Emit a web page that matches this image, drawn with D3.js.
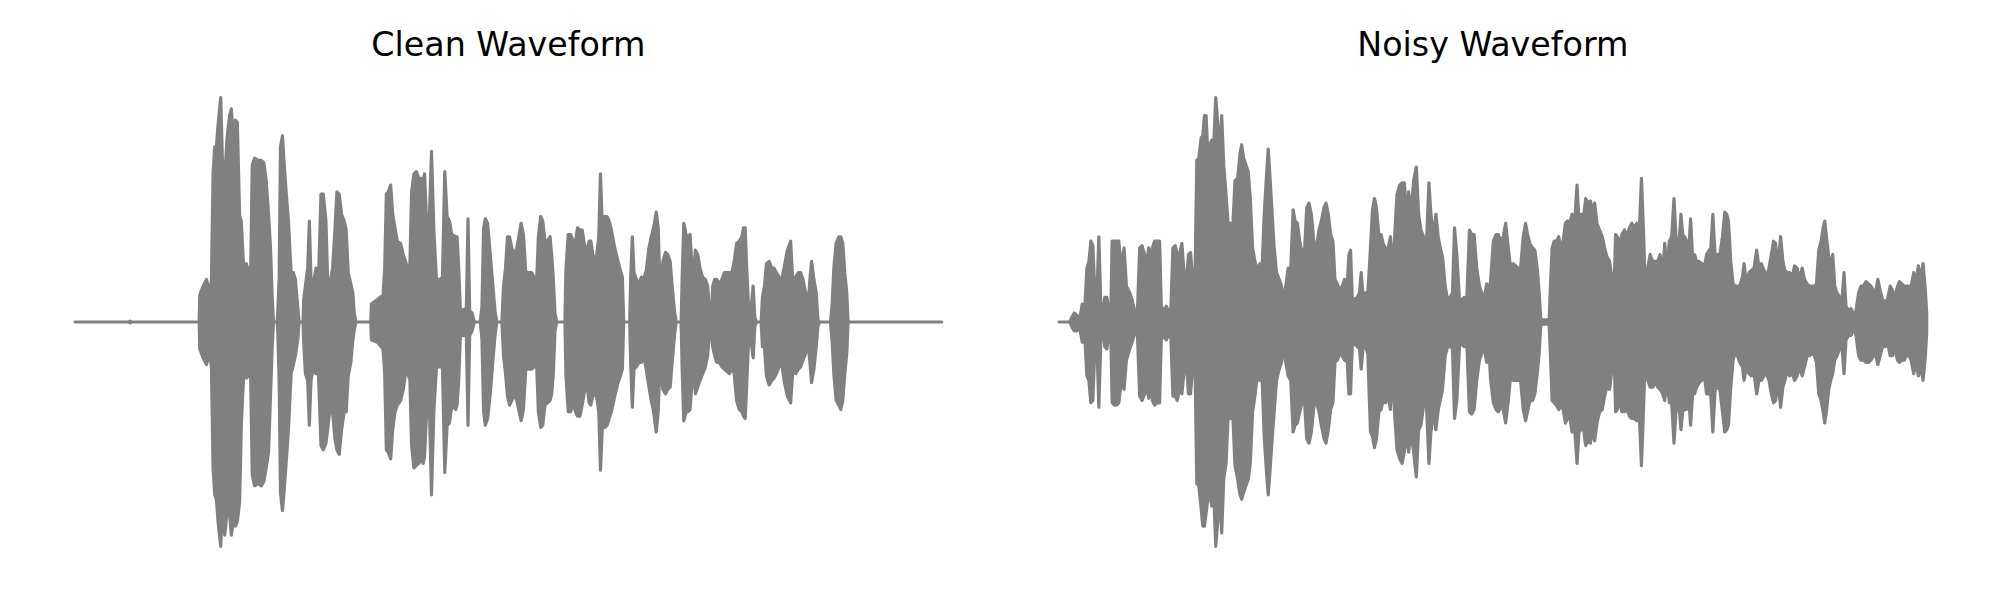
<!DOCTYPE html>
<html><head><meta charset="utf-8">
<script src="https://cdn.jsdelivr.net/npm/d3@7"></script>
<style>body{margin:0;background:#fff} svg{display:block}</style>
</head><body><svg id="c" width="2000" height="600"></svg>
<script>
// Panel titles
const titles = ["Clean Waveform", "Noisy Waveform"];

// Waveform envelopes: [frame, upper peak, lower peak], amplitude normalised to [-1, 1]
const cleanEnvelope = [
[0,0,0],[162,0,0],[166,0.004,-0.004],[170,0,0],[374,0,0],
[376,0.12,-0.12],[386,0.16,-0.16],[396,0.19,-0.19],[406,0.13,-0.14],[411,0.19,-0.20],[416,0.66,-0.65],[421,0.78,-0.77],[426,0.78,-0.79],[431,0.88,-0.89],[439,1.00,-1.00],[445,0.67,-0.77],[451,0.64,-0.95],[458,0.82,-0.85],[466,0.92,-0.86],[471,0.95,-0.95],[477,0.79,-0.88],[483,0.90,-0.91],[489,0.89,-0.89],[496,0.47,-0.80],[501,0.45,-0.46],[508,0.24,-0.24],[516,0.26,-0.25],[523,0.23,-0.24],[529,0.20,-0.23],[534,0.70,-0.68],[541,0.73,-0.73],[551,0.72,-0.72],[561,0.72,-0.73],[569,0.71,-0.71],[576,0.63,-0.65],[583,0.48,-0.58],[589,0.33,-0.33],[594,0.11,-0.11],[598,0,0],[609,0,0],
[611,0.05,-0.05],[615,0.19,-0.26],[619,0.78,-0.76],[625,0.83,-0.84],[629,0.73,-0.77],[636,0.58,-0.63],[643,0.45,-0.48],[651,0.22,-0.23],[658,0.22,-0.19],[664,0.19,-0.15],[671,0.07,-0.08],[675,0,0],[687,0,0],
[689,0.10,-0.09],[694,0.16,-0.23],[701,0.24,-0.26],[706,0.45,-0.46],[711,0.19,-0.26],[717,0.16,-0.21],[726,0.24,-0.23],[733,0.16,-0.21],[741,0.57,-0.55],[748,0.57,-0.57],[756,0.45,-0.54],[761,0.19,-0.48],[768,0.17,-0.39],[776,0.24,-0.40],[783,0.41,-0.52],[789,0.58,-0.57],[796,0.57,-0.59],[803,0.48,-0.48],[811,0.45,-0.40],[817,0.41,-0.40],[823,0.22,-0.24],[831,0.17,-0.18],[837,0.13,-0.08],[841,0.04,-0.04],[846,0,0],[891,0,0],
[893,0.08,-0.08],[911,0.10,-0.09],[928,0.12,-0.12],[933,0.24,-0.23],[938,0.57,-0.57],[944,0.58,-0.58],[951,0.61,-0.61],[957,0.48,-0.48],[964,0.42,-0.40],[971,0.36,-0.37],[981,0.35,-0.35],[989,0.30,-0.30],[996,0.27,-0.23],[1003,0.23,-0.23],[1009,0.26,-0.26],[1014,0.58,-0.55],[1021,0.66,-0.65],[1028,0.67,-0.64],[1036,0.64,-0.63],[1044,0.64,-0.61],[1049,0.63,-0.63],[1053,0.66,-0.60],[1061,0.39,-0.35],[1068,0.48,-0.40],[1074,0.76,-0.77],[1081,0.41,-0.40],[1089,0.19,-0.20],[1101,0.19,-0.20],[1107,0.20,-0.20],[1114,0.67,-0.67],[1121,0.47,-0.46],[1128,0.45,-0.45],[1135,0.39,-0.37],[1147,0.38,-0.39],[1151,0.38,-0.37],[1156,0.24,-0.26],[1161,0.05,-0.06],[1179,0.06,-0.06],[1184,0.46,-0.46],[1189,0.05,-0.06],[1196,0.04,-0.04],[1203,0,0],[1221,0,0],
[1226,0.07,-0.08],[1231,0.42,-0.40],[1236,0.46,-0.46],[1243,0.44,-0.43],[1251,0.30,-0.32],[1259,0.16,-0.17],[1266,0.04,-0.05],[1271,0,0],[1286,0,0],
[1291,0.16,-0.15],[1297,0.24,-0.23],[1303,0.38,-0.33],[1309,0.38,-0.37],[1316,0.33,-0.35],[1323,0.30,-0.32],[1331,0.33,-0.35],[1338,0.39,-0.40],[1344,0.44,-0.44],[1351,0.39,-0.39],[1358,0.22,-0.21],[1376,0.22,-0.21],[1383,0.20,-0.20],[1391,0.19,-0.20],[1396,0.38,-0.40],[1403,0.47,-0.47],[1409,0.45,-0.46],[1416,0.36,-0.37],[1423,0.36,-0.36],[1431,0.38,-0.35],[1436,0.30,-0.32],[1441,0.19,-0.23],[1446,0.04,-0.04],[1451,0,0],[1476,0,0],
[1479,0.24,-0.24],[1486,0.39,-0.40],[1493,0.39,-0.40],[1501,0.36,-0.36],[1508,0.36,-0.40],[1514,0.42,-0.42],[1521,0.41,-0.42],[1528,0.41,-0.37],[1536,0.33,-0.30],[1543,0.33,-0.29],[1549,0.36,-0.36],[1554,0.36,-0.37],[1561,0.29,-0.32],[1571,0.29,-0.33],[1578,0.38,-0.40],[1583,0.66,-0.66],[1589,0.41,-0.46],[1596,0.47,-0.47],[1603,0.47,-0.46],[1609,0.45,-0.43],[1616,0.41,-0.40],[1626,0.33,-0.33],[1636,0.27,-0.27],[1643,0.23,-0.24],[1649,0.20,-0.21],[1653,0,0],[1671,0,0],
[1674,0.19,-0.18],[1679,0.38,-0.38],[1684,0.22,-0.21],[1691,0.19,-0.20],[1699,0.17,-0.18],[1706,0.20,-0.18],[1713,0.19,-0.15],[1721,0.23,-0.21],[1729,0.33,-0.29],[1736,0.38,-0.35],[1743,0.42,-0.40],[1751,0.49,-0.49],[1757,0.42,-0.40],[1763,0.11,-0.15],[1771,0.27,-0.30],[1779,0.31,-0.32],[1786,0.30,-0.30],[1793,0.27,-0.29],[1799,0.16,-0.18],[1806,0.05,-0.06],[1811,0,0],[1826,0,0],
[1829,0.19,-0.20],[1834,0.44,-0.44],[1841,0.39,-0.40],[1847,0.38,-0.40],[1853,0.39,-0.39],[1859,0.24,-0.26],[1864,0.23,-0.23],[1869,0.32,-0.32],[1876,0.30,-0.29],[1883,0.24,-0.26],[1891,0.20,-0.23],[1899,0.19,-0.20],[1906,0.16,-0.15],[1911,0.05,-0.06],[1916,0,0],
[1921,0.16,-0.11],[1927,0.19,-0.15],[1933,0.19,-0.18],[1941,0.17,-0.18],[1949,0.19,-0.20],[1956,0.22,-0.21],[1971,0.22,-0.23],[1979,0.22,-0.21],[1986,0.27,-0.23],[1993,0.35,-0.35],[2001,0.36,-0.39],[2009,0.38,-0.40],[2014,0.42,-0.42],[2019,0.42,-0.43],[2023,0.26,-0.30],[2029,0.07,-0.09],[2036,0.05,-0.08],[2043,0.16,-0.16],[2048,0.02,-0.02],[2053,0,0],[2067,0,0],
[2071,0.11,-0.11],[2077,0.16,-0.11],[2083,0.26,-0.24],[2091,0.27,-0.28],[2099,0.24,-0.26],[2106,0.24,-0.25],[2113,0.22,-0.23],[2121,0.20,-0.20],[2129,0.19,-0.18],[2136,0.24,-0.26],[2146,0.32,-0.33],[2156,0.36,-0.36],[2163,0.16,-0.20],[2171,0.20,-0.23],[2179,0.22,-0.21],[2186,0.22,-0.20],[2193,0.19,-0.17],[2201,0.13,-0.14],[2208,0.07,-0.09],[2214,0.19,-0.18],[2219,0.27,-0.27],[2226,0.19,-0.21],[2233,0.13,-0.11],[2238,0.01,-0.02],[2243,0,0],[2276,0,0],
[2281,0.08,-0.09],[2286,0.24,-0.23],[2293,0.35,-0.35],[2301,0.38,-0.37],[2307,0.38,-0.39],[2313,0.35,-0.35],[2319,0.22,-0.23],[2325,0.13,-0.14],[2329,0,0],[2611,0,0]
];

const noisyEnvelope = [
[0,0,0],[33,0,0],[38,0.02,-0.02],[46,0.04,-0.04],[53,0.03,-0.04],[63,0.02,-0.03],[70,0.08,-0.09],[78,0.07,-0.08],[84,0.24,-0.24],[90,0.27,-0.26],[96,0.36,-0.36],[102,0.34,-0.35],[108,0.13,-0.11],[114,0.11,-0.09],[120,0.38,-0.38],[126,0.07,-0.08],[133,0.05,-0.05],[138,0.11,-0.11],[144,0.11,-0.12],[150,0.05,-0.06],[156,0.04,-0.05],[160,0.36,-0.36],[166,0.36,-0.37],[173,0.36,-0.37],[180,0.36,-0.36],[188,0.24,-0.26],[196,0.33,-0.30],[203,0.16,-0.17],[213,0.13,-0.12],[220,0.10,-0.09],[228,0.05,-0.05],[236,0.04,-0.05],[243,0.33,-0.33],[250,0.34,-0.35],[258,0.30,-0.32],[265,0.27,-0.29],[270,0.33,-0.34],[275,0.24,-0.26],[281,0.33,-0.35],[288,0.36,-0.37],[296,0.36,-0.36],[303,0.36,-0.36],[308,0.07,-0.08],[316,0.05,-0.06],[323,0.07,-0.08],[330,0.05,-0.06],[336,0.02,-0.03],[343,0.33,-0.33],[350,0.34,-0.33],[356,0.30,-0.35],[363,0.30,-0.30],[370,0.35,-0.32],[376,0.23,-0.23],[383,0.17,-0.17],[390,0.30,-0.32],[396,0.31,-0.32],[403,0.19,-0.20],[410,0.23,-0.23],[415,0.72,-0.72],[421,0.73,-0.73],[428,0.82,-0.83],[433,0.83,-0.91],[438,0.92,-0.91],[443,0.92,-0.85],[448,0.75,-0.79],[454,0.79,-0.77],[460,0.81,-0.82],[466,0.79,-0.77],[472,1.00,-1.00],[478,0.89,-0.89],[484,0.72,-0.76],[490,0.92,-0.94],[496,0.70,-0.70],[503,0.57,-0.63],[510,0.42,-0.40],[516,0.44,-0.43],[523,0.41,-0.40],[530,0.63,-0.64],[538,0.64,-0.70],[545,0.75,-0.77],[550,0.79,-0.79],[556,0.73,-0.76],[563,0.70,-0.73],[570,0.67,-0.70],[576,0.55,-0.63],[583,0.33,-0.40],[590,0.27,-0.33],[598,0.23,-0.23],[605,0.26,-0.26],[611,0.22,-0.23],[618,0.48,-0.51],[624,0.63,-0.65],[630,0.77,-0.77],[636,0.63,-0.65],[642,0.48,-0.52],[648,0.33,-0.40],[655,0.22,-0.26],[663,0.19,-0.21],[670,0.16,-0.18],[678,0.10,-0.11],[683,0.16,-0.18],[690,0.24,-0.24],[698,0.24,-0.26],[705,0.50,-0.49],[711,0.45,-0.46],[718,0.44,-0.45],[725,0.36,-0.40],[733,0.30,-0.35],[740,0.33,-0.37],[746,0.51,-0.52],[753,0.53,-0.54],[760,0.48,-0.49],[768,0.35,-0.37],[775,0.33,-0.36],[783,0.41,-0.40],[790,0.45,-0.46],[798,0.51,-0.52],[804,0.53,-0.54],[811,0.48,-0.48],[818,0.39,-0.39],[825,0.36,-0.36],[831,0.19,-0.18],[838,0.17,-0.17],[846,0.14,-0.14],[853,0.16,-0.15],[860,0.19,-0.17],[868,0.17,-0.18],[873,0.30,-0.32],[878,0.32,-0.32],
[883,0.11,-0.11],[890,0.10,-0.09],[898,0.11,-0.11],[905,0.13,-0.12],[910,0.22,-0.21],[916,0.11,-0.11],[923,0.13,-0.11],[930,0.13,-0.14],[938,0.33,-0.49],[944,0.50,-0.51],[950,0.55,-0.56],[956,0.51,-0.52],[963,0.39,-0.40],[970,0.39,-0.39],[976,0.35,-0.35],[983,0.33,-0.36],[990,0.32,-0.32],[998,0.38,-0.39],[1005,0.22,-0.21],[1011,0.39,-0.42],[1018,0.57,-0.57],[1026,0.61,-0.61],[1033,0.62,-0.63],[1040,0.62,-0.58],[1046,0.48,-0.49],[1053,0.58,-0.58],[1060,0.48,-0.49],[1068,0.63,-0.58],[1076,0.69,-0.69],[1083,0.48,-0.48],[1090,0.41,-0.46],[1098,0.38,-0.37],[1106,0.33,-0.35],[1114,0.62,-0.63],[1120,0.48,-0.49],[1128,0.38,-0.39],[1135,0.48,-0.48],[1142,0.38,-0.39],[1148,0.33,-0.35],[1155,0.29,-0.30],[1163,0.16,-0.15],[1170,0.10,-0.11],[1178,0.11,-0.11],[1185,0.13,-0.12],[1191,0.42,-0.43],[1198,0.30,-0.35],[1206,0.10,-0.11],[1213,0.10,-0.09],[1220,0.11,-0.11],[1228,0.10,-0.09],[1236,0.41,-0.40],[1243,0.39,-0.41],[1250,0.39,-0.39],[1258,0.24,-0.26],[1266,0.16,-0.17],[1273,0.13,-0.14],[1280,0.10,-0.11],[1288,0.17,-0.18],[1295,0.13,-0.14],[1300,0.19,-0.26],[1308,0.36,-0.36],[1316,0.39,-0.39],[1323,0.39,-0.40],[1330,0.36,-0.38],[1338,0.38,-0.39],[1345,0.44,-0.45],[1353,0.33,-0.35],[1360,0.24,-0.24],[1368,0.26,-0.26],[1383,0.24,-0.26],[1390,0.24,-0.26],[1398,0.38,-0.39],[1405,0.44,-0.44],[1411,0.39,-0.40],[1418,0.35,-0.35],[1426,0.33,-0.35],[1433,0.32,-0.32],[1440,0.24,-0.23],[1446,0.13,-0.14],[1451,0.01,-0.01],[1476,0.01,-0.01],[1480,0.16,-0.15],[1485,0.33,-0.35],[1491,0.36,-0.36],[1498,0.36,-0.37],[1505,0.38,-0.39],[1511,0.33,-0.37],[1518,0.36,-0.39],[1525,0.44,-0.45],[1531,0.45,-0.43],[1538,0.44,-0.42],[1545,0.48,-0.49],[1553,0.45,-0.48],[1560,0.61,-0.63],[1566,0.45,-0.49],[1573,0.48,-0.48],[1580,0.47,-0.48],[1586,0.55,-0.55],[1593,0.53,-0.53],[1600,0.54,-0.54],[1606,0.50,-0.48],[1613,0.53,-0.53],[1620,0.44,-0.45],[1628,0.41,-0.40],[1636,0.38,-0.39],[1643,0.33,-0.33],[1650,0.29,-0.29],[1658,0.27,-0.30],[1666,0.19,-0.20],[1671,0.10,-0.09],[1676,0.39,-0.40],[1681,0.38,-0.39],[1688,0.35,-0.35],[1695,0.39,-0.40],[1703,0.41,-0.40],[1710,0.38,-0.39],[1718,0.42,-0.42],[1725,0.44,-0.43],[1732,0.42,-0.43],[1740,0.44,-0.44],
[1748,0.42,-0.43],[1754,0.64,-0.64],[1760,0.41,-0.40],[1766,0.13,-0.12],[1773,0.24,-0.26],[1780,0.30,-0.29],[1788,0.27,-0.29],[1796,0.27,-0.27],[1803,0.27,-0.29],[1810,0.30,-0.30],[1818,0.22,-0.32],[1824,0.35,-0.35],[1831,0.24,-0.26],[1838,0.36,-0.36],[1845,0.38,-0.36],[1852,0.55,-0.54],[1858,0.38,-0.40],[1866,0.33,-0.35],[1873,0.48,-0.48],[1878,0.39,-0.40],[1884,0.38,-0.39],[1890,0.36,-0.39],[1896,0.30,-0.33],[1902,0.46,-0.46],[1908,0.29,-0.32],[1914,0.30,-0.32],[1920,0.27,-0.29],[1928,0.27,-0.27],[1936,0.26,-0.26],[1943,0.24,-0.23],[1950,0.30,-0.32],[1958,0.32,-0.32],[1963,0.33,-0.33],[1969,0.48,-0.49],[1976,0.29,-0.30],[1983,0.30,-0.29],[1990,0.30,-0.30],[1998,0.38,-0.40],[2005,0.49,-0.49],[2011,0.48,-0.48],[2016,0.45,-0.46],[2023,0.27,-0.29],[2030,0.17,-0.17],[2036,0.16,-0.14],[2043,0.16,-0.15],[2050,0.16,-0.18],[2058,0.20,-0.20],[2063,0.26,-0.26],[2070,0.17,-0.20],[2078,0.22,-0.23],[2085,0.23,-0.24],[2093,0.24,-0.23],[2101,0.32,-0.32],[2108,0.24,-0.26],[2115,0.26,-0.26],[2123,0.23,-0.24],[2130,0.20,-0.23],[2138,0.24,-0.26],[2145,0.30,-0.32],[2152,0.36,-0.36],[2158,0.35,-0.35],[2165,0.24,-0.26],[2173,0.38,-0.38],[2180,0.27,-0.29],[2186,0.23,-0.26],[2193,0.22,-0.21],[2200,0.22,-0.24],[2208,0.20,-0.23],[2215,0.25,-0.26],[2223,0.24,-0.24],[2230,0.19,-0.20],[2238,0.24,-0.24],[2245,0.19,-0.20],[2253,0.17,-0.15],[2260,0.16,-0.15],[2268,0.16,-0.14],[2275,0.16,-0.15],[2281,0.17,-0.18],[2288,0.32,-0.32],[2295,0.36,-0.35],[2301,0.42,-0.40],[2306,0.45,-0.45],[2311,0.38,-0.40],[2318,0.29,-0.30],[2324,0.26,-0.26],[2330,0.30,-0.23],[2336,0.16,-0.17],[2343,0.13,-0.15],[2351,0.11,-0.12],[2358,0.10,-0.11],[2364,0.22,-0.23],[2370,0.07,-0.08],[2378,0.05,-0.06],[2385,0.06,-0.06],[2391,0.04,-0.04],[2396,0.01,-0.02],[2402,0.07,-0.08],[2408,0.13,-0.15],[2415,0.16,-0.17],[2423,0.16,-0.17],[2430,0.18,-0.18],[2438,0.17,-0.18],[2445,0.16,-0.17],[2453,0.14,-0.15],[2460,0.14,-0.15],[2466,0.19,-0.19],[2473,0.14,-0.15],[2480,0.10,-0.11],[2488,0.09,-0.11],[2495,0.10,-0.09],[2503,0.16,-0.15],[2510,0.14,-0.15],[2518,0.11,-0.12],[2525,0.16,-0.17],[2531,0.18,-0.18],[2538,0.17,-0.17],[2545,0.16,-0.17],[2552,0.16,-0.15],[2560,0.16,-0.15],[2566,0.16,-0.17],[2574,0.22,-0.23],[2580,0.17,-0.17],[2588,0.25,-0.24],[2595,0.19,-0.20],[2602,0.26,-0.26],[2608,0.16,-0.17],[2613,0.04,-0.05]
];

const svg = d3.select("#c");
const panels = [
  { title: titles[0], data: cleanEnvelope, left: 75, right: 941.7 },
  { title: titles[1], data: noisyEnvelope, left: 1059, right: 1926.7 }
];
const y = d3.scaleLinear().domain([-1, 1]).range([546.4, 97.6]);

panels.forEach(p => {
  const x = d3.scaleLinear().domain(d3.extent(p.data, d => d[0])).range([p.left, p.right]);
  const area = d3.area().x(d => x(d[0])).y0(d => y(d[2])).y1(d => y(d[1]));
  svg.append("path").datum(p.data)
    .attr("d", area)
    .attr("fill", "#808080")
    .attr("stroke", "#808080")
    .attr("stroke-width", 3.2)
    .attr("stroke-linejoin", "round")
    .attr("stroke-linecap", "round");
  svg.append("text")
    .attr("x", (p.left + p.right) / 2)
    .attr("y", 56)
    .attr("text-anchor", "middle")
    .attr("font-family", "DejaVu Sans")
    .attr("font-size", 33.3)
    .attr("fill", "#000")
    .text(p.title);
});
</script></body></html>
